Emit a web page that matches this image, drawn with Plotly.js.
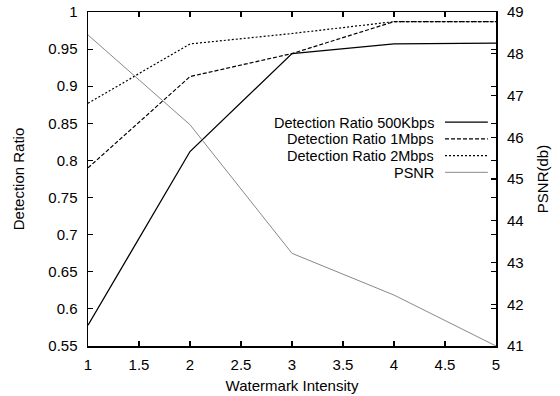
<!DOCTYPE html>
<html>
<head>
<meta charset="utf-8">
<script src="https://cdn.plot.ly/plotly-3.0.1.min.js"></script>
<style>html,body{margin:0;padding:0;background:#fff;}#chart{width:560px;height:396px;}</style>
</head>
<body>
<div id="chart"></div>
<script>
const intensity = [1, 2, 3, 4, 5];
const ratio500K = [0.578, 0.812, 0.944, 0.957, 0.958];
const ratio1M = [0.790, 0.913, 0.944, 0.987, 0.987];
const ratio2M = [0.877, 0.957, 0.971, 0.987, 0.987];
const psnr = [48.45, 46.3, 43.22, 42.22, 41.0];
const seriesNames = ['Detection Ratio 500Kbps', 'Detection Ratio 1Mbps', 'Detection Ratio 2Mbps', 'PSNR'];

const xTicks = [1, 1.5, 2, 2.5, 3, 3.5, 4, 4.5, 5];
const yTicks = [0.55, 0.6, 0.65, 0.7, 0.75, 0.8, 0.85, 0.9, 0.95, 1];
const yTickText = ['0.55', '0.6', '0.65', '0.7', '0.75', '0.8', '0.85', '0.9', '0.95', '1'];
const y2Ticks = [41, 42, 43, 44, 45, 46, 47, 48, 49];

const styles = [
  {color: '#000', width: 1.3, dash: 'solid'},
  {color: '#000', width: 1.2, dash: '4px,2px'},
  {color: '#000', width: 1.2, dash: '2px,2px'},
  {color: '#888', width: 1, dash: 'solid'}
];
const font = {family: 'Liberation Sans, Arial, Helvetica, sans-serif', size: 15, color: '#000'};
const legendFont = {family: 'Liberation Sans, Arial, Helvetica, sans-serif', size: 14.5, color: '#000'};

const traces = [
  {x: intensity, y: ratio500K, name: seriesNames[0], mode: 'lines', line: styles[0], yaxis: 'y'},
  {x: intensity, y: ratio1M, name: seriesNames[1], mode: 'lines', line: styles[1], yaxis: 'y'},
  {x: intensity, y: ratio2M, name: seriesNames[2], mode: 'lines', line: styles[2], yaxis: 'y'},
  {x: intensity, y: psnr, name: seriesNames[3], mode: 'lines', line: styles[3], yaxis: 'y2'}
];

// manual legend (text right-aligned, sample line on the right)
const legendY = [0.670, 0.620, 0.570, 0.520];
const annotations = seriesNames.map((n, i) => ({
  xref: 'paper', yref: 'paper', x: 0.853, y: legendY[i], xanchor: 'right', yanchor: 'middle',
  text: n, showarrow: false, font: legendFont, height: 15
}));
const shapes = seriesNames.map((n, i) => ({
  type: 'line', xref: 'paper', yref: 'paper', x0: 0.875, x1: 0.98, y0: legendY[i], y1: legendY[i],
  line: {color: styles[i].color, width: styles[i].width, dash: styles[i].dash}
}));

const layout = {
  width: 560, height: 396,
  margin: {l: 88, r: 64, t: 12, b: 50},
  paper_bgcolor: '#fff', plot_bgcolor: '#fff',
  font: font,
  showlegend: false,
  xaxis: {
    range: [1, 5], tickvals: xTicks, ticktext: xTicks.map(String),
    ticks: 'inside', ticklen: 5, tickwidth: 1.2, tickcolor: '#000',
    showline: true, linecolor: '#000', linewidth: 1.5, mirror: 'ticks',
    showgrid: false, zeroline: false, ticklabelstandoff: 4,
    title: {text: 'Watermark Intensity', font: font, standoff: 9},
    tickfont: font
  },
  yaxis: {
    range: [0.55, 1], tickvals: yTicks, ticktext: yTickText,
    ticks: 'inside', ticklen: 5, tickwidth: 1.2, tickcolor: '#000',
    showline: true, linecolor: '#000', linewidth: 1.5, mirror: 'ticks',
    showgrid: false, zeroline: false, ticklabelstandoff: 6,
    title: {text: 'Detection Ratio', font: font, standoff: 20},
    tickfont: font
  },
  yaxis2: {
    overlaying: 'y', side: 'right',
    range: [41, 49], tickvals: y2Ticks, ticktext: y2Ticks.map(String),
    ticks: 'inside', ticklen: 5, tickwidth: 1.2, tickcolor: '#000',
    showline: false, showgrid: false, zeroline: false, ticklabelstandoff: 10,
    title: {text: 'PSNR(db)', font: font, standoff: 14},
    tickfont: font
  },
  annotations: annotations,
  shapes: shapes
};

Plotly.newPlot('chart', traces, layout, {staticPlot: true});
</script>
</body>
</html>
